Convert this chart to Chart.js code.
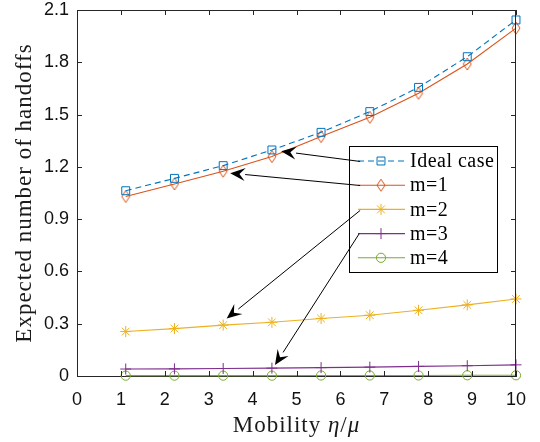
<!DOCTYPE html>
<html>
<head>
<meta charset="utf-8">
<script src="https://cdn.jsdelivr.net/npm/chart.js@4.4.1/dist/chart.umd.min.js"></script>
<style>
  html, body { margin: 0; padding: 0; background: #fff; }
  #wrap { width: 540px; height: 442px; position: relative; }
</style>
</head>
<body>
<div id="wrap"><canvas id="grafico"></canvas></div>
<script>
// valores
const mobility = [1.11, 2.22, 3.33, 4.44, 5.56, 6.67, 7.78, 8.89, 10];
const idealCase = [1.063, 1.134, 1.207, 1.297, 1.398, 1.517, 1.656, 1.832, 2.043];
const m1 = [1.030, 1.102, 1.175, 1.259, 1.374, 1.484, 1.622, 1.790, 1.996];
const m2 = [0.255, 0.272, 0.292, 0.308, 0.330, 0.349, 0.377, 0.408, 0.442];
const m3 = [0.040, 0.041, 0.043, 0.045, 0.048, 0.051, 0.055, 0.059, 0.064];
const m4 = [0.002, 0.002, 0.002, 0.002, 0.003, 0.003, 0.003, 0.004, 0.004];
const seriesNames = ['Ideal case', 'm=1', 'm=2', 'm=3', 'm=4'];

const xTicks = [0, 1, 2, 3, 4, 5, 6, 7, 8, 9, 10];
const yTicks = [0, 0.3, 0.6, 0.9, 1.2, 1.5, 1.8, 2.1];
const yTickLabels = ['0', '0.3', '0.6', '0.9', '1.2', '1.5', '1.8', '2.1'];

// flechas: [desde x, desde y, hasta x, hasta y] en unidades de los ejes
const arrows = [
    [6.45, 1.231, 4.65, 1.290],
    [6.45, 1.093, 3.49, 1.164],
    [6.45, 0.950, 3.41, 0.330],
    [6.43, 0.817, 4.51, 0.063]
];

const colores = ['#0072BD', '#D95319', '#EDB120', '#7E2F8E', '#77AC30'];

function pts(ys) {
    return mobility.map((x, i) => ({ x: x, y: ys[i] }));
}

// rombo alto como en matlab
function makeDiamond(color) {
    const c = document.createElement('canvas');
    c.width = 10; c.height = 14;
    const g = c.getContext('2d');
    g.strokeStyle = color;
    g.lineWidth = 1;
    g.beginPath();
    g.moveTo(5, 1); g.lineTo(9, 7); g.lineTo(5, 13); g.lineTo(1, 7); g.closePath();
    g.stroke();
    return c;
}
const diamond = makeDiamond(colores[1]);

const estilos = [
    { style: 'rect', radius: 5.6, dash: [6, 4] },
    { style: diamond, radius: 6, dash: [] },
    { style: 'star', radius: 5.5, dash: [] },
    { style: 'cross', radius: 5.5, dash: [] },
    { style: 'circle', radius: 4.6, dash: [] }
];

const valores = [idealCase, m1, m2, m3, m4];

const datasets = valores.map((v, i) => ({
    label: seriesNames[i],
    data: pts(v),
    borderColor: colores[i],
    backgroundColor: 'transparent',
    borderWidth: 1.1,
    borderDash: estilos[i].dash,
    pointStyle: estilos[i].style,
    pointRadius: estilos[i].radius,
    pointBorderColor: colores[i],
    pointBackgroundColor: 'rgba(0,0,0,0)',
    pointBorderWidth: 1,
    tension: 0,
    clip: false
}));

function drawMarker(ctx, i, x, y) {
    const e = estilos[i];
    ctx.save();
    ctx.strokeStyle = colores[i];
    ctx.lineWidth = 1;
    ctx.setLineDash([]);
    const r = e.radius;
    ctx.beginPath();
    if (e.style === 'rect') {
        const s = r * Math.SQRT1_2;
        ctx.rect(x - s, y - s, 2 * s, 2 * s);
    } else if (e.style === 'star') {
        ctx.moveTo(x - r, y); ctx.lineTo(x + r, y);
        ctx.moveTo(x, y - r); ctx.lineTo(x, y + r);
        const d = r * Math.SQRT1_2;
        ctx.moveTo(x - d, y - d); ctx.lineTo(x + d, y + d);
        ctx.moveTo(x - d, y + d); ctx.lineTo(x + d, y - d);
    } else if (e.style === 'cross') {
        ctx.moveTo(x - r, y); ctx.lineTo(x + r, y);
        ctx.moveTo(x, y - r); ctx.lineTo(x, y + r);
    } else if (e.style === 'circle') {
        ctx.arc(x, y, r, 0, Math.PI * 2);
    }
    ctx.stroke();
    if (typeof e.style !== 'string') {
        ctx.drawImage(e.style, x - e.style.width / 2, y - e.style.height / 2);
    }
    ctx.restore();
}

const extras = {
    id: 'extras',
    afterDraw(chart) {
        const ctx = chart.ctx;
        const a = chart.chartArea;
        const xs = chart.scales.x, ys = chart.scales.y;
        ctx.save();

        // marco superior y derecho + marcas hacia dentro
        ctx.strokeStyle = '#262626';
        ctx.lineWidth = 1;
        ctx.beginPath();
        ctx.moveTo(a.left, a.top + 0.5); ctx.lineTo(a.right, a.top + 0.5);
        ctx.moveTo(a.right - 0.5, a.top); ctx.lineTo(a.right - 0.5, a.bottom);
        xTicks.forEach(v => {
            const px = Math.round(xs.getPixelForValue(v)) + 0.5;
            ctx.moveTo(px, a.bottom); ctx.lineTo(px, a.bottom - 5);
            ctx.moveTo(px, a.top); ctx.lineTo(px, a.top + 5);
        });
        yTicks.forEach(v => {
            const py = Math.round(ys.getPixelForValue(v)) + 0.5;
            ctx.moveTo(a.left, py); ctx.lineTo(a.left + 5, py);
            ctx.moveTo(a.right, py); ctx.lineTo(a.right - 5, py);
        });
        ctx.stroke();

        // leyenda
        const lx = 349, ly = 146, lw = 148, lh = 126;
        ctx.fillStyle = '#fff';
        ctx.fillRect(lx, ly, lw, lh);
        ctx.strokeStyle = '#000';
        ctx.strokeRect(lx + 0.5, ly + 0.5, lw, lh);
        ctx.font = '20px "Liberation Serif"';
        ctx.letterSpacing = '0.5px';
        ctx.textBaseline = 'middle';
        ctx.textAlign = 'left';
        seriesNames.forEach((n, i) => {
            const y = ly + 15 + i * 24.2;
            ctx.strokeStyle = colores[i];
            ctx.lineWidth = 1.1;
            ctx.setLineDash(estilos[i].dash);
            ctx.beginPath();
            ctx.moveTo(lx + 9, y); ctx.lineTo(lx + 56, y);
            ctx.stroke();
            ctx.setLineDash([]);
            drawMarker(ctx, i, lx + 32, y);
            ctx.fillStyle = '#000';
            ctx.fillText(n, lx + 61, y + 1);
        });

        // flechas
        ctx.strokeStyle = '#000';
        ctx.fillStyle = '#000';
        ctx.lineWidth = 1;
        arrows.forEach(f => {
            const x0 = xs.getPixelForValue(f[0]), y0 = ys.getPixelForValue(f[1]);
            const x1 = xs.getPixelForValue(f[2]), y1 = ys.getPixelForValue(f[3]);
            const ang = Math.atan2(y1 - y0, x1 - x0);
            const L = 15, W = 6.5;
            const bx = x1 - L * Math.cos(ang), by = y1 - L * Math.sin(ang);
            ctx.beginPath();
            ctx.moveTo(x0, y0); ctx.lineTo(bx, by);
            ctx.stroke();
            const nx = -Math.sin(ang), ny = Math.cos(ang);
            const mx = x1 - L * 0.62 * Math.cos(ang), my = y1 - L * 0.62 * Math.sin(ang);
            ctx.beginPath();
            ctx.moveTo(x1, y1);
            ctx.lineTo(bx + nx * W, by + ny * W);
            ctx.lineTo(mx, my);
            ctx.lineTo(bx - nx * W, by - ny * W);
            ctx.closePath();
            ctx.fill();
        });

        // titulos de ejes
        ctx.fillStyle = '#1a1a1a';
        ctx.font = '23px "Liberation Serif"';
        ctx.letterSpacing = '1px';
        ctx.textBaseline = 'alphabetic';
        ctx.textAlign = 'left';
        const partes = [['Mobility ', ''], ['η', 'italic '], ['/', ''], ['μ', 'italic ']];
        let total = 0;
        partes.forEach(p => { ctx.font = p[1] + '23px "Liberation Serif"'; total += ctx.measureText(p[0]).width; });
        let cx = (a.left + a.right) / 2 - total / 2;
        partes.forEach(p => {
            ctx.font = p[1] + '23px "Liberation Serif"';
            ctx.fillText(p[0], cx, 432);
            cx += ctx.measureText(p[0]).width;
        });

        ctx.font = '23px "Liberation Serif"';
        ctx.translate(31, (a.top + a.bottom) / 2);
        ctx.rotate(-Math.PI / 2);
        ctx.textAlign = 'center';
        ctx.fillText('Expected number of handoffs', 0, 0);
        ctx.restore();
    }
};

new Chart(document.getElementById('grafico'), {
    type: 'line',
    data: { datasets: datasets },
    options: {
        responsive: true,
        maintainAspectRatio: false,
        animation: false,
        layout: { padding: { left: 0, right: 24, top: 10, bottom: 0 } },
        plugins: { legend: { display: false }, tooltip: { enabled: false } },
        scales: {
            x: {
                type: 'linear',
                min: 0, max: 10,
                afterBuildTicks: s => { s.ticks = xTicks.map(v => ({ value: v })); },
                afterFit: s => { s.height = 66; s.paddingLeft = 0; s.paddingRight = 0; },
                grid: { display: false, drawTicks: false },
                border: { display: true, color: '#262626', width: 1 },
                ticks: { color: '#111', padding: 13, maxRotation: 0, font: { family: '"Liberation Sans"', size: 18 } }
            },
            y: {
                type: 'linear',
                min: 0, max: 2.1,
                afterBuildTicks: s => { s.ticks = yTicks.map(v => ({ value: v })); },
                afterFit: s => { s.width = 77; s.paddingTop = 0; s.paddingBottom = 0; },
                grid: { display: false, drawTicks: false },
                border: { display: true, color: '#262626', width: 1 },
                ticks: {
                    color: '#111', padding: 8,
                    font: { family: '"Liberation Sans"', size: 18 },
                    callback: (v, i) => yTickLabels[i]
                }
            }
        }
    },
    plugins: [extras]
});
</script>
</body>
</html>
